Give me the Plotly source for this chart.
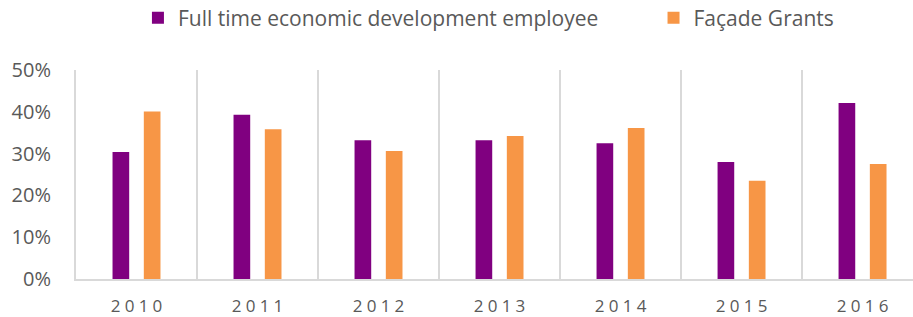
import plotly.graph_objects as go

years = ["2010", "2011", "2012", "2013", "2014", "2015", "2016"]
employee = [0.304, 0.393, 0.332, 0.332, 0.325, 0.280, 0.421]
facade = [0.401, 0.358, 0.306, 0.342, 0.361, 0.235, 0.275]
series_names = ["Full time economic development employee", "Façade Grants"]
y_ticks = [0, 0.1, 0.2, 0.3, 0.4, 0.5]

FONT = "Open Sans, Noto Sans, sans-serif"
GRID = "#D9D9D9"
TXT = "#595959"

spaced = ["\u2005".join(list(y)) for y in years]

fig = go.Figure()
fig.add_trace(go.Bar(x=years, y=employee, name=series_names[0], legend="legend",
                     marker=dict(color="#800080", line=dict(width=0))))
fig.add_trace(go.Bar(x=years, y=facade, name=series_names[1], legend="legend2",
                     marker=dict(color="#F79646", line=dict(width=0))))

leg_common = dict(orientation="h", xanchor="left", y=1.248, yanchor="middle",
                  font=dict(size=21, color=TXT), itemsizing="constant",
                  bgcolor="rgba(0,0,0,0)")

fig.update_layout(
    width=913, height=317,
    margin=dict(l=76, r=0, t=70, b=38, autoexpand=False),
    paper_bgcolor="white", plot_bgcolor="white",
    barmode="group", bargap=0.483, bargroupgap=0.467,
    font=dict(family=FONT, color=TXT, size=18),
    showlegend=True,
    legend=dict(x=0.074, **leg_common),
    legend2=dict(x=0.69, **leg_common),
)
fig.update_xaxes(
    type="category", range=[-0.5, 6.417], tickmode="array",
    tickvals=years, ticktext=spaced, tickson="boundaries",
    showgrid=True, gridcolor=GRID, gridwidth=2,
    showline=True, linecolor=GRID, linewidth=2,
    ticks="", tickfont=dict(size=17, color=TXT), ticklabelstandoff=11,
    fixedrange=True,
)
fig.update_yaxes(
    range=[0, 0.5], tickvals=y_ticks, tickformat=".0%",
    showgrid=False, zeroline=False,
    showline=True, linecolor=GRID, linewidth=2,
    ticks="", tickfont=dict(size=20, color=TXT), ticklabelstandoff=19,
    fixedrange=True,
)

fig.write_html("out.html", config={"displayModeBar": False},
               post_script="document.body.style.margin='0';document.body.style.overflow='hidden';")
